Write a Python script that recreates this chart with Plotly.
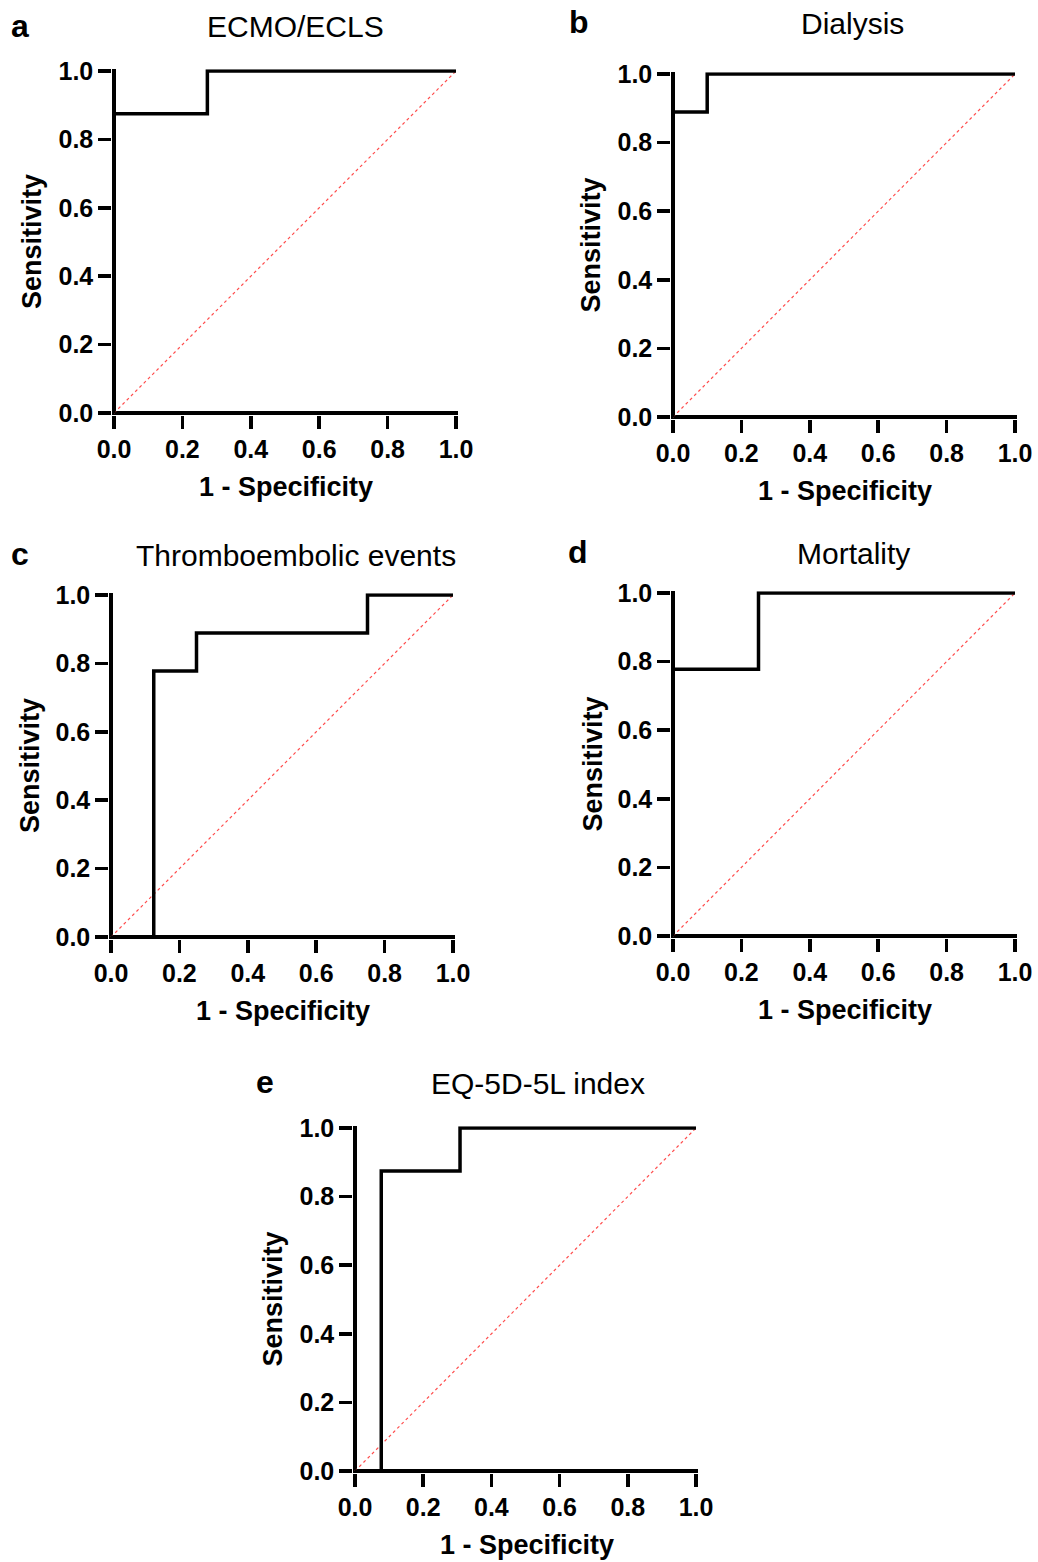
import plotly.graph_objects as go

W, H = 1038, 1562

# ---------------- data ----------------
panel_letters = ["a", "b", "c", "d", "e"]
panel_titles = ["ECMO/ECLS", "Dialysis", "Thromboembolic events", "Mortality", "EQ-5D-5L index"]

ecmo_fpr = [0.0, 0.0, 0.273, 0.273, 1.0]
ecmo_tpr = [0.0, 0.875, 0.875, 1.0, 1.0]

dialysis_fpr = [0.0, 0.0, 0.1, 0.1, 1.0]
dialysis_tpr = [0.0, 0.889, 0.889, 1.0, 1.0]

thrombo_fpr = [0.0, 0.125, 0.125, 0.25, 0.25, 0.75, 0.75, 1.0]
thrombo_tpr = [0.0, 0.0, 0.778, 0.778, 0.889, 0.889, 1.0, 1.0]

mortality_fpr = [0.0, 0.0, 0.25, 0.25, 1.0]
mortality_tpr = [0.0, 0.778, 0.778, 1.0, 1.0]

eq5d_fpr = [0.0, 0.077, 0.077, 0.308, 0.308, 1.0]
eq5d_tpr = [0.0, 0.0, 0.875, 0.875, 1.0, 1.0]

chance_x = [0.0, 1.0]
chance_y = [0.0, 1.0]

tick_vals = [0.0, 0.2, 0.4, 0.6, 0.8, 1.0]
tick_text = ["0.0", "0.2", "0.4", "0.6", "0.8", "1.0"]
x_title = "1 - Specificity"
y_title = "Sensitivity"

curves = [
    (ecmo_fpr, ecmo_tpr),
    (dialysis_fpr, dialysis_tpr),
    (thrombo_fpr, thrombo_tpr),
    (mortality_fpr, mortality_tpr),
    (eq5d_fpr, eq5d_tpr),
]

# ---------------- layout geometry (pixels) ----------------
# (x of value 0, x of value 1, y of value 0, y of value 1)
boxes = [
    (114, 456, 413, 71),
    (673, 1015, 417, 74),
    (111, 453, 937, 595),
    (673, 1015, 936, 593),
    (355, 696, 1471, 1128),
]
letter_pos = [(20, 26), (579, 22), (20, 554), (578, 552), (265, 1082)]
title_pos = [(295, 27), (852, 23), (296, 555), (853, 553), (538, 1083)]
sens_x = [32, 591, 30, 592, 272]

LW = 3.5          # axis / curve line width
HALF = LW / 2

FONT = "Liberation Sans, Arial, Helvetica, sans-serif"

def px(x):
    return x / W

def py(y):
    return 1 - y / H

fig = go.Figure()
layout = dict(
    template="none",
    width=W, height=H,
    margin=dict(l=0, r=0, t=0, b=0, pad=0, autoexpand=False),
    paper_bgcolor="white", plot_bgcolor="white",
    showlegend=False,
    font=dict(family=FONT, color="black"),
)
annotations = []

for i, ((fx, ty), (x0, x1, y0, y1)) in enumerate(zip(curves, boxes)):
    n = "" if i == 0 else str(i + 1)
    xa = "x" + n
    ya = "y" + n
    hx = HALF / (x1 - x0)
    hy = HALF / (y0 - y1)
    xd = [px(x0 - HALF), px(x1 + HALF)]
    yd = [py(y0 + HALF), py(y1 - HALF)]
    # the axis lines are drawn as zero lines, centred on the value 0
    axis_common = dict(
        showline=False,
        zeroline=True, zerolinewidth=LW, zerolinecolor="black",
        ticks="outside", ticklen=13, tickwidth=LW, tickcolor="black",
        tickvals=tick_vals, ticktext=tick_text,
        tickfont=dict(family=FONT, size=25, color="black", weight="bold"),
        showgrid=False, fixedrange=True, automargin=False,
    )
    layout["xaxis" + n] = dict(axis_common, domain=xd, range=[-hx, 1 + hx],
                               anchor=ya, ticklabelstandoff=-1)
    layout["yaxis" + n] = dict(axis_common, domain=yd, range=[-hy, 1 + hy],
                               anchor=xa)

    fig.add_trace(go.Scatter(
        x=chance_x, y=chance_y, mode="lines", xaxis=xa, yaxis=ya,
        line=dict(color="#ff4d4d", width=1.2, dash="dot"), hoverinfo="skip",
    ))
    fig.add_trace(go.Scatter(
        x=fx, y=ty, mode="lines", xaxis=xa, yaxis=ya,
        line=dict(color="black", width=LW), hoverinfo="skip",
    ))

    lx, ly = letter_pos[i]
    annotations.append(dict(
        text="<b>%s</b>" % panel_letters[i], x=px(lx), y=py(ly),
        xref="paper", yref="paper", xanchor="center", yanchor="middle",
        showarrow=False, font=dict(family=FONT, size=32, color="black"),
    ))
    tx, tyy = title_pos[i]
    annotations.append(dict(
        text=panel_titles[i], x=px(tx), y=py(tyy),
        xref="paper", yref="paper", xanchor="center", yanchor="middle",
        showarrow=False, font=dict(family=FONT, size=30, color="black"),
    ))
    annotations.append(dict(
        text="<b>%s</b>" % x_title, x=px((x0 + x1) / 2 + 1), y=py(y0 + 74),
        xref="paper", yref="paper", xanchor="center", yanchor="middle",
        showarrow=False, font=dict(family=FONT, size=27, color="black"),
    ))
    annotations.append(dict(
        text="<b>%s</b>" % y_title, x=px(sens_x[i]), y=py((y0 + y1) / 2),
        xref="paper", yref="paper", xanchor="center", yanchor="middle",
        textangle=-90,
        showarrow=False, font=dict(family=FONT, size=27, color="black"),
    ))

layout["annotations"] = annotations
fig.update_layout(**layout)
fig.write_html(
    "out.html",
    config={"displayModeBar": False, "staticPlot": True},
    post_script="document.body.style.margin='0';document.body.style.padding='0';"
                "document.body.style.overflow='hidden';",
)
